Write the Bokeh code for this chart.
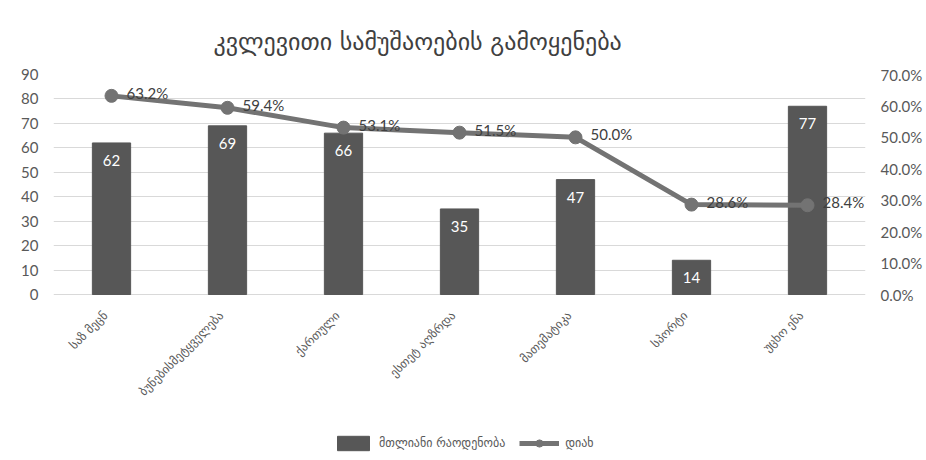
from bokeh.plotting import figure
from bokeh.models import (ColumnDataSource, LinearAxis, Range1d, LabelSet, Legend,
                          LegendItem, FactorRange, NumeralTickFormatter, FixedTicker, Title)
from bokeh.core.properties import value
from bokeh.embed import file_html
from bokeh.resources import INLINE

categories = ["საზ მეცნ", "ბუნებისმეტყველება", "ქართული", "ესთეტ აღზრდა",
              "მათემატიკა", "სპორტი", "უცხო ენა"]
total_counts = [62, 69, 66, 35, 47, 14, 77]
yes_share = [0.632, 0.594, 0.531, 0.515, 0.500, 0.286, 0.284]
left_ticks = [0, 10, 20, 30, 40, 50, 60, 70, 80, 90]
right_ticks = [0.0, 0.1, 0.2, 0.3, 0.4, 0.5, 0.6, 0.7]
left_max = 90
right_max = 0.7

title_text = "კვლევითი სამუშაოების გამოყენება"
bar_name = "მთლიანი რაოდენობა"
line_name = "დიახ"

GEO = "DejaVu Sans"
NUM = "Lato"
TXT = "#595959"

# layout (pixels)
W, H = 926, 460
TOP, LEFT, RIGHT = 74, 53, 61
DATA_H = 220                      # height of the 0..max value band
BELOW = H - TOP - DATA_H          # room under the value band for labels + legend

src = ColumnDataSource(dict(
    cat=categories,
    zero=[0] * len(categories),
    total=total_counts,
    total_lbl=[str(v) for v in total_counts],
    share=yes_share,
    share_lbl=["%.1f%%" % (v * 100) for v in yes_share],
))

p = figure(width=W, height=H, x_range=FactorRange(*categories, range_padding=0.0),
           y_range=Range1d(-left_max * BELOW / DATA_H, left_max),
           output_backend="svg", toolbar_location=None,
           min_border_left=LEFT, min_border_right=RIGHT, min_border_top=TOP,
           min_border_bottom=0)
p.extra_y_ranges = {"pct": Range1d(-right_max * BELOW / DATA_H, right_max)}

p.title = Title(text=title_text, align="left", offset=160, text_font=GEO,
                text_font_size="24px", text_font_style="normal", text_color="#404040",
                standoff=38)

bars = p.vbar(x="cat", top="total", width=0.33, source=src, color="#575757")
line = p.line(x="cat", y="share", source=src, y_range_name="pct", line_width=5,
              line_color="#737373")
dots = p.scatter(x="cat", y="share", source=src, y_range_name="pct", size=13,
                 fill_color="#737373", line_color="#737373")

p.add_layout(LabelSet(x="cat", y="total", text="total_lbl", source=src, text_color="white",
                      text_font=value(NUM), text_font_size="15px", text_align="center",
                      text_baseline="top", y_offset=-12))
p.add_layout(LabelSet(x="cat", y="share", text="share_lbl", source=src, y_range_name="pct",
                      text_color="#404040", text_font=value(NUM), text_font_size="15px",
                      text_align="left", text_baseline="middle", x_offset=15, y_offset=3))

# category labels, rotated, placed through the categorical x scale
p.add_layout(LabelSet(x="cat", y="zero", text="cat", source=src, text_color=TXT,
                      text_font=value(GEO), text_font_size="12px", text_align="right",
                      text_baseline="middle", angle=0.785, x_offset=-6, y_offset=-19))

la = p.yaxis[0]
la.ticker = FixedTicker(ticks=left_ticks)
ra = LinearAxis(y_range_name="pct", ticker=FixedTicker(ticks=right_ticks),
                formatter=NumeralTickFormatter(format="0.0%"))
p.add_layout(ra, "right")
for ax in (la, ra):
    ax.axis_line_color = None
    ax.major_tick_line_color = None
    ax.minor_tick_line_color = None
    ax.major_label_text_font = NUM
    ax.major_label_text_font_size = "15px"
    ax.major_label_text_color = TXT
    ax.major_label_standoff = 9

p.xaxis.visible = False
p.xgrid.grid_line_color = None
p.ygrid.grid_line_color = "#d9d9d9"
p.ygrid.ticker = FixedTicker(ticks=left_ticks)
p.outline_line_color = None

legend = Legend(items=[LegendItem(label=bar_name, renderers=[bars]),
                       LegendItem(label=line_name, renderers=[line, dots])],
                orientation="horizontal", location=(280, 8),
                label_text_font=GEO, label_text_font_size="12px", label_text_color=TXT,
                glyph_width=40, glyph_height=18, label_standoff=6, spacing=14,
                margin=0, padding=4, border_line_color=None, background_fill_alpha=0)
p.add_layout(legend, "center")

open("out.html", "w").write(file_html(p, INLINE))
